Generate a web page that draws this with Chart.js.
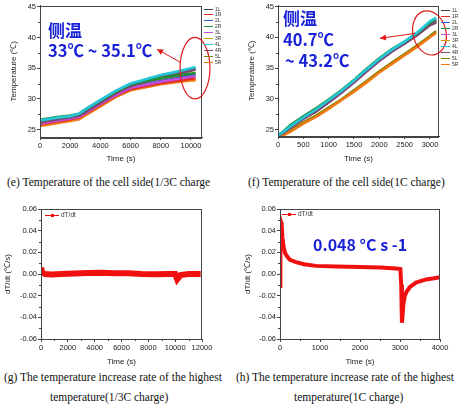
<!DOCTYPE html>
<html><head><meta charset="utf-8">
<script src="https://cdn.jsdelivr.net/npm/chart.js@4.4.0/dist/chart.umd.min.js"></script>
<style>
html,body{margin:0;padding:0;background:#fff;width:462px;height:407px;overflow:hidden;position:relative;}
canvas{position:absolute;}
.cap{position:absolute;font-family:"Liberation Serif","Times New Roman",serif;font-size:11.5px;color:#111;white-space:nowrap;line-height:1;}
.ann{position:absolute;font-family:"Noto Sans CJK SC","Noto Sans",sans-serif;font-weight:bold;color:#1a22d8;white-space:nowrap;line-height:1;}
.leg{position:absolute;font-family:"Liberation Sans",Arial,sans-serif;color:#333;white-space:nowrap;line-height:1;}
</style></head><body>
<canvas id="ce" width="231" height="168" style="left:0;top:0"></canvas>
<canvas id="cf" width="231" height="168" style="left:231px;top:0"></canvas>
<canvas id="cg" width="231" height="170" style="left:0;top:200px"></canvas>
<canvas id="ch" width="231" height="170" style="left:231px;top:200px"></canvas>

<div class="ann" style="left:48px;top:21px;font-size:17px">侧温</div>
<div class="ann" style="left:48px;top:42px;font-size:16.5px">33℃ ~ 35.1℃</div>
<div class="ann" style="left:283px;top:9px;font-size:17px">侧温</div>
<div class="ann" style="left:283px;top:31px;font-size:16.5px">40.7℃</div>
<div class="ann" style="left:285px;top:52px;font-size:16.5px">~ 43.2℃</div>
<div class="ann" style="left:313px;top:236px;font-size:16px">0.048 °C s -1</div>

<div class="cap" style="left:7px;top:177px">(e) Temperature of the cell side(1/3C charge</div>
<div class="cap" style="left:248px;top:177px">(f) Temperature of the cell side(1C charge)</div>
<div class="cap" style="left:4px;top:372px">(g) The temperature increase rate of the highest</div>
<div class="cap" style="left:50px;top:392px">temperature(1/3C charge)</div>
<div class="cap" style="left:236px;top:372px">(h) The temperature increase rate of the highest</div>
<div class="cap" style="left:294px;top:392px">temperature(1C charge)</div>

<div id="lege"></div><div id="legf"></div><div id="legg"></div><div id="legh"></div>

<script>
// ---------- data ----------
const seriesNames = ['1L','1R','2L','2R','3L','3R','4L','4R','5L','5R'];
const seriesColors = ['#3c3c3c','#e8262a','#2c5fd8','#1f8f3a','#c050d8','#c9a400','#22c8d8','#7a4a6a','#7f8000','#f07a12'];

// (e) 1/3C charge, side temperatures
const eTime = [0,1000,2000,2600,3000,4000,5000,6000,7000,8000,9000,10000,10300];
const e1L = [26.3,26.7,27.1,27.4,28.1,29.6,31.1,32.3,33.1,33.8,34.3,34.8,34.9];
const e1R = [25.9,26.3,26.7,27.0,27.6,29.1,30.5,31.6,32.1,32.6,32.9,33.3,33.4];
const e2L = [26.1,26.5,26.9,27.2,27.8,29.3,30.7,31.9,32.4,32.9,33.3,33.8,33.9];
const e2R = [26.6,27.0,27.3,27.6,28.3,29.8,31.2,32.4,32.9,33.4,33.8,34.1,34.2];
const e3L = [26.0,26.4,26.8,27.1,27.7,29.2,30.6,31.8,32.3,32.8,33.2,33.6,33.7];
const e3R = [25.8,26.2,26.6,26.9,27.5,29.0,30.4,31.5,32.0,32.5,32.8,33.2,33.2];
const e4L = [26.5,26.9,27.2,27.6,28.3,29.8,31.3,32.5,33.2,33.9,34.4,35.0,35.2];
const e4R = [26.2,26.6,27.0,27.3,27.9,29.4,30.9,32.1,32.8,33.5,34.0,34.6,34.8];
const e5L = [26.4,26.8,27.2,27.5,28.1,29.6,31.0,32.2,32.8,33.3,33.7,34.1,34.2];
const e5R = [25.6,26.0,26.4,26.7,27.3,28.8,30.3,31.4,31.9,32.4,32.7,33.0,33.0];
const eXTicks = [0,2000,4000,6000,8000,10000];
const eYTicks = [25,30,35,40,45];

// (f) 1C charge, side temperatures
const fTime = [0,100,250,500,750,1000,1250,1500,1750,2000,2250,2500,2750,3000,3120];
const f1L = [24.1,24.5,25.4,26.8,28.0,29.5,31.1,32.8,34.6,36.3,37.8,39.1,40.5,42.1,42.6];
const f1R = [24.1,24.5,25.5,26.9,28.1,29.6,31.1,32.8,34.6,36.3,37.8,39.1,40.5,42.2,42.7];
const f2L = [24.1,24.6,25.6,27.0,28.2,29.7,31.2,32.9,34.7,36.4,37.9,39.2,40.6,42.4,42.9];
const f2R = [24.1,24.7,25.8,27.2,28.5,29.9,31.4,33.1,34.9,36.6,38.1,39.3,40.7,42.4,43.0];
const f3L = [24.1,24.5,25.4,26.8,28.0,29.5,31.0,32.7,34.5,36.2,37.7,39.0,40.4,42.0,42.5];
const f3R = [24.1,24.5,25.5,26.9,28.1,29.6,31.2,32.9,34.7,36.4,37.9,39.2,40.6,42.3,42.8];
const f4L = [24.1,24.6,25.6,27.0,28.3,29.8,31.3,33.0,34.8,36.5,38.0,39.3,40.8,42.6,43.2];
const f4R = [24.1,24.5,25.4,26.8,28.0,29.5,31.0,32.7,34.5,36.2,37.7,39.0,40.4,42.0,42.4];
const f5L = [24.0,24.2,24.9,26.2,27.3,28.6,29.9,31.4,32.9,34.5,35.9,37.3,38.7,40.2,41.0];
const f5R = [24.0,24.1,24.7,26.0,27.1,28.4,29.8,31.2,32.7,34.3,35.7,37.1,38.5,40.0,40.7];
const fXTicks = [0,500,1000,1500,2000,2500,3000];
const fYTicks = [25,30,35,40,45];

// (g) dT/dt, 1/3C charge
const gTime = [0,30,100,300,800,1500,2500,3500,4500,5500,6500,7500,8500,9500,10000,10150,10400,11000,11900];
const gRate = [0.006,0.004,0.0015,0.0,-0.0005,0.0,0.0005,0.001,0.0012,0.0008,0.0006,0.0,-0.0003,0.0,0.0,-0.005,-0.001,0.0,0.0];
const gXTicks = [0,2000,4000,6000,8000,10000,12000];
const gYTicks = [-0.06,-0.04,-0.02,0,0.02,0.04,0.06];

// (h) dT/dt, 1C charge
const hTime = [0,10,25,40,60,90,130,180,250,400,600,900,1400,2000,2500,2900,3010,3030,3048,3065,3085,3120,3170,3250,3400,3650,3850,4000];
const hRate = [-0.011,0.02,0.048,0.046,0.034,0.025,0.019,0.016,0.013,0.011,0.009,0.0075,0.007,0.0065,0.006,0.005,0.0045,-0.01,-0.045,-0.038,-0.028,-0.02,-0.016,-0.012,-0.008,-0.005,-0.004,-0.003];
const hXTicks = [0,1000,2000,3000,4000];
const hYTicks = [-0.06,-0.04,-0.02,0,0.02,0.04,0.06];

// ---------- helpers ----------
const FONT = '"Liberation Sans", Arial, sans-serif';
const eSeries = [e1L,e1R,e2L,e2R,e3L,e3R,e4L,e4R,e5L,e5R];
const fSeries = [f1L,f1R,f2L,f2R,f3L,f3R,f4L,f4R,f5L,f5R];

function pts(xs, ys){ return xs.map((x,i)=>({x:x,y:ys[i]})); }

const decoPlugin = {
  id:'deco',
  afterDraw(chart, args, opts){
    const ctx = chart.ctx, a = chart.chartArea;
    const xs = chart.scales.x, ys = chart.scales.y;
    ctx.save();
    // frame
    ctx.strokeStyle = '#444'; ctx.lineWidth = 1;
    ctx.strokeRect(Math.round(a.left)+0.5, Math.round(a.top)+0.5, Math.round(a.right-a.left)-1, Math.round(a.bottom-a.top));
    // minor ticks
    const mx = opts.xTicks, my = opts.yTicks;
    ctx.beginPath();
    for (let i=0;i<mx.length-1;i++){
      const p = xs.getPixelForValue((mx[i]+mx[i+1])/2);
      ctx.moveTo(Math.round(p)+0.5, a.bottom); ctx.lineTo(Math.round(p)+0.5, a.bottom+2);
    }
    for (let i=0;i<my.length-1;i++){
      const p = ys.getPixelForValue((my[i]+my[i+1])/2);
      ctx.moveTo(a.left, Math.round(p)+0.5); ctx.lineTo(a.left-2, Math.round(p)+0.5);
    }
    ctx.stroke();
    // ellipse annotation
    if (opts.ellipse){
      const e = opts.ellipse;
      const cx = xs.getPixelForValue(e.x), cy = ys.getPixelForValue(e.y);
      const rx = Math.abs(xs.getPixelForValue(e.x+e.rx)-cx), ry = Math.abs(ys.getPixelForValue(e.y+e.ry)-cy);
      ctx.strokeStyle = '#e01818'; ctx.lineWidth = 1.2;
      ctx.beginPath(); ctx.ellipse(cx, cy, rx, ry, e.rot||0, 0, Math.PI*2); ctx.stroke();
    }
    if (opts.arrow){
      const r = opts.arrow;
      const x1 = xs.getPixelForValue(r.x1), y1 = ys.getPixelForValue(r.y1);
      const x2 = xs.getPixelForValue(r.x2), y2 = ys.getPixelForValue(r.y2);
      ctx.strokeStyle = '#e01818'; ctx.fillStyle = '#e01818'; ctx.lineWidth = 1;
      ctx.beginPath(); ctx.moveTo(x1,y1); ctx.lineTo(x2,y2); ctx.stroke();
      const ang = Math.atan2(y2-y1, x2-x1), L = 6, W = 3;
      ctx.beginPath();
      ctx.moveTo(x2,y2);
      ctx.lineTo(x2 - L*Math.cos(ang) + W*Math.sin(ang), y2 - L*Math.sin(ang) - W*Math.cos(ang));
      ctx.lineTo(x2 - L*Math.cos(ang) - W*Math.sin(ang), y2 - L*Math.sin(ang) + W*Math.cos(ang));
      ctx.closePath(); ctx.fill();
    }
    ctx.restore();
  }
};

function axis(cfg){
  return {
    type:'linear', min:cfg.min, max:cfg.max,
    afterBuildTicks:(s)=>{ s.ticks = cfg.ticks.map(v=>({value:v})); },
    afterFit:(s)=>{ if (cfg.w!==undefined) s.width = cfg.w; if (cfg.h!==undefined) s.height = cfg.h; },
    grid:{display:true, drawOnChartArea:false, drawTicks:true, tickLength:3, color:'#444'},
    border:{display:true, color:'#444'},
    ticks:{color:'#222', font:{family:FONT, size:7.5}, padding:1, maxRotation:0, autoSkip:false,
      callback:cfg.fmt || ((v)=>String(v))},
    title:{display:true, text:cfg.title, color:'#222', font:{family:FONT, size:8}, padding:cfg.tpad}
  };
}

function makeChart(id, datasets, o){
  return new Chart(document.getElementById(id), {
    type:'line',
    data:{datasets:datasets},
    options:{
      responsive:false, animation:false, devicePixelRatio:1,
      layout:{padding:o.pad},
      plugins:{legend:{display:false}, tooltip:{enabled:false}, deco:o.deco},
      elements:{point:{radius:0}, line:{tension:0}},
      scales:{x:axis(o.x), y:axis(o.y)}
    },
    plugins:[decoPlugin]
  });
}

const drawOrder = [5,8,9,0,1,2,4,7,3,6]; // dataset order (lower drawn later)
function tempSets(times, series){
  return series.map((s,i)=>({
    label:seriesNames[i], data:pts(times,s), borderColor:seriesColors[i], backgroundColor:seriesColors[i],
    borderWidth:2.6, fill:false, order: -drawOrder.indexOf(i)
  }));
}

makeChart('ce', tempSets(eTime, eSeries), {
  pad:{left:0,right:29,top:5,bottom:0},
  x:{min:0,max:10730,ticks:eXTicks,h:31,title:'Time (s)',tpad:{top:0,bottom:4.5}},
  y:{min:23.8,max:45.2,ticks:eYTicks,w:40,title:'Temperature (℃)',tpad:{top:9,bottom:0}},
  deco:{xTicks:eXTicks,yTicks:eYTicks,
    ellipse:{x:10265,y:35.0,rx:990,ry:5.0,rot:0},
    arrow:{x1:9340,y1:35.9,x2:7750,y2:38.1}}
});

makeChart('cf', tempSets(fTime, fSeries), {
  pad:{left:0,right:23,top:5,bottom:0},
  x:{min:0,max:3178,ticks:fXTicks,h:32,title:'Time (s)',tpad:{top:0,bottom:4.5}},
  y:{min:24.0,max:45.16,ticks:fYTicks,w:47,title:'Temperature (℃)',tpad:{top:15.5,bottom:0}},
  deco:{xTicks:fXTicks,yTicks:fYTicks,
    ellipse:{x:2990,y:40.72,rx:326,ry:3.63,rot:-0.25},
    arrow:{x1:2704,y1:40.64,x2:2013,y2:39.83}}
});

const rateFmt = (v)=>Number(v).toFixed(2);
function rateSet(times, vals, w){
  return [{label:'dT/dt', data:pts(times,vals), borderColor:'#f01010', backgroundColor:'#f01010', borderWidth:w, fill:false}];
}

makeChart('cg', rateSet(gTime, gRate, 6), {
  pad:{left:0,right:29,top:9,bottom:0},
  x:{min:0,max:12000,ticks:gXTicks,h:31,title:'Time (s)',tpad:{top:0,bottom:3.6}},
  y:{min:-0.06,max:0.06,ticks:gYTicks,w:41,title:'dT/dt (℃/s)',tpad:{top:3,bottom:0},fmt:rateFmt},
  deco:{xTicks:gXTicks,yTicks:gYTicks}
});

makeChart('ch', rateSet(hTime, hRate, 4), {
  pad:{left:0,right:22,top:9,bottom:0},
  x:{min:0,max:4000,ticks:hXTicks,h:31,title:'Time (s)',tpad:{top:0,bottom:3.6}},
  y:{min:-0.06,max:0.06,ticks:hYTicks,w:49,title:'dT/dt (℃/s)',tpad:{top:11.5,bottom:0},fmt:rateFmt},
  deco:{xTicks:hXTicks,yTicks:hYTicks}
});

// ---------- HTML legends ----------
function tempLegend(el, x, y0, step){
  let h = '';
  seriesNames.forEach((n,i)=>{
    const y = y0 + i*step;
    h += '<div style="position:absolute;left:'+x+'px;top:'+(y-0.5)+'px;width:9px;height:1px;background:'+seriesColors[i]+'"></div>';
    h += '<div class="leg" style="left:'+(x+11)+'px;top:'+(y-2.5)+'px;font-size:5px">'+n+'</div>';
  });
  document.getElementById(el).innerHTML = h;
}
tempLegend('lege', 204, 9, 5.9);
tempLegend('legf', 441, 10, 6.0);

function rateLegend(el, x, y){
  let h = '<div style="position:absolute;left:'+x+'px;top:'+(y-0.5)+'px;width:14px;height:1.2px;background:#f01010"></div>';
  h += '<div style="position:absolute;left:'+(x+5.5)+'px;top:'+(y-1.5)+'px;width:3px;height:3px;background:#f01010"></div>';
  h += '<div class="leg" style="left:'+(x+16)+'px;top:'+(y-3.5)+'px;font-size:6.5px">dT/dt</div>';
  document.getElementById(el).innerHTML = h;
}
rateLegend('legg', 45, 215);
rateLegend('legh', 282, 214);
</script>
</body></html>
